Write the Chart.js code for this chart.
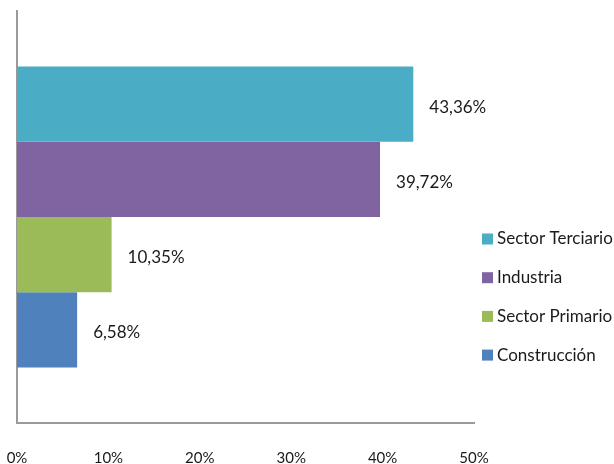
<!DOCTYPE html>
<html>
<head>
<meta charset="utf-8">
<script src="https://cdn.jsdelivr.net/npm/chart.js@4"></script>
<style>
  html, body { margin: 0; padding: 0; background: #fff; }
  #wrap { width: 614px; height: 464px; }
</style>
</head>
<body>
<div id="wrap"><canvas id="myChart"></canvas></div>
<script>
// Data
const categories = [""];
const seriesNames = ["Sector Terciario", "Industria", "Sector Primario", "Construcción"];
const seriesValues = [43.36, 39.72, 10.35, 6.58];
const seriesColors = ["#4BACC6", "#8064A2", "#9BBB59", "#4F81BD"];
const tickValues = [0, 10, 20, 30, 40, 50];

const FONT = "Lato";

// Value labels at the end of each bar
const valueLabels = {
  id: "valueLabels",
  afterDatasetsDraw(chart) {
    const ctx = chart.ctx;
    ctx.save();
    ctx.font = "17px " + FONT;
    ctx.fillStyle = "#1a1a1a";
    ctx.textBaseline = "middle";
    ctx.textAlign = "left";
    chart.data.datasets.forEach((ds, i) => {
      const bar = chart.getDatasetMeta(i).data[0];
      const txt = ds.data[0].toFixed(2).replace(".", ",") + "%";
      ctx.fillText(txt, bar.x + 16, bar.y + 3);
    });
    ctx.restore();
  },
};

// Legend on the right, drawn by hand so it sits where the original has it
const sideLegend = {
  id: "sideLegend",
  afterDraw(chart) {
    const ctx = chart.ctx;
    ctx.save();
    ctx.font = "17px " + FONT;
    ctx.textBaseline = "middle";
    chart.data.datasets.forEach((ds, i) => {
      const y = 239 + i * 38.7;
      ctx.fillStyle = ds.backgroundColor;
      ctx.fillRect(482, y - 5.5, 11, 11);
      ctx.fillStyle = "#1a1a1a";
      ctx.fillText(ds.label, 497, y);
    });
    ctx.restore();
  },
};

const data = {
  labels: categories,
  datasets: seriesNames.map((name, i) => ({
    label: name,
    data: [seriesValues[i]],
    backgroundColor: seriesColors[i],
    borderWidth: 0,
    categoryPercentage: 0.73,
    barPercentage: 1,
  })),
};

const config = {
  type: "bar",
  data: data,
  options: {
    indexAxis: "y",
    responsive: true,
    maintainAspectRatio: false,
    animation: false,
    layout: { padding: { left: 17, right: 140, top: 11, bottom: 0 } },
    plugins: {
      legend: { display: false },
      tooltip: { enabled: false },
    },
    scales: {
      x: {
        min: 0,
        max: 50,
        afterBuildTicks: (axis) => {
          axis.ticks = tickValues.map((v) => ({ value: v }));
        },
        afterFit: (axis) => {
          axis.height = 41;
          // tick padding would otherwise push the plot to the right
          axis.paddingLeft = 0;
          axis.paddingRight = 0;
        },
        grid: { display: false, drawTicks: false },
        border: { display: true, color: "#9a9a9a", width: 2 },
        ticks: {
          padding: 28,
          color: "#1a1a1a",
          font: { family: FONT, size: 15, lineHeight: 1 },
          maxRotation: 0,
          callback: (v) => v + "%",
        },
      },
      y: {
        afterFit: (axis) => {
          axis.width = 0;
        },
        grid: { display: false, drawTicks: false },
        border: { display: true, color: "#9a9a9a", width: 2 },
        ticks: { display: false },
      },
    },
  },
  plugins: [valueLabels, sideLegend],
};

const ctx = document.getElementById("myChart").getContext("2d");
const myChart = new Chart(ctx, config);
</script>
</body>
</html>
